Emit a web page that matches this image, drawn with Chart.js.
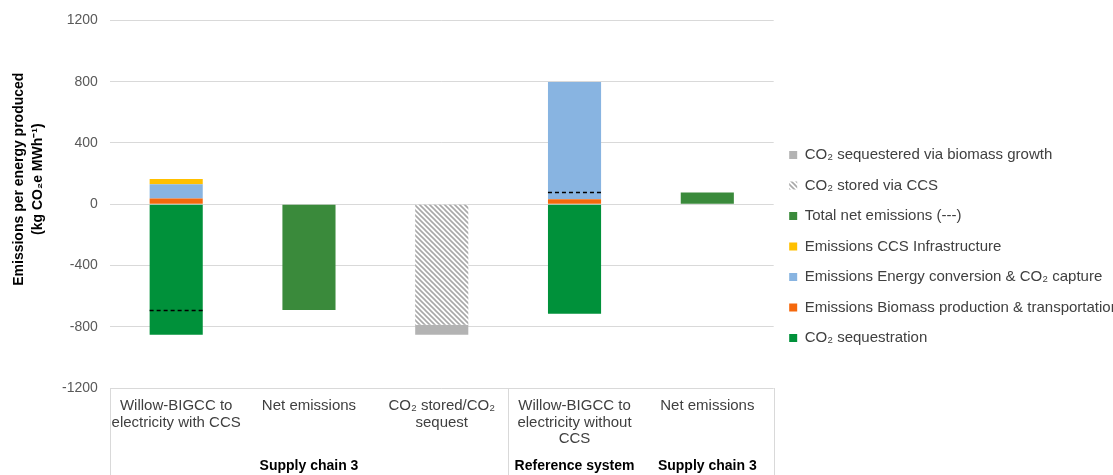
<!DOCTYPE html>
<html>
<head>
<meta charset="utf-8">
<script src="https://cdn.jsdelivr.net/npm/chart.js@4/dist/chart.umd.min.js"></script>
<style>
  html, body { margin: 0; padding: 0; background: #fff; overflow: hidden; }
  #wrap { width: 1129px; height: 475px; }
</style>
</head>
<body>
<div id="wrap"><canvas id="chart"></canvas></div>
<script>
// categorias (eje x, dos niveles)
const categories = [
  ['Willow-BIGCC to', 'electricity with CCS'],
  ['Net emissions'],
  ['CO₂ stored/CO₂', 'sequest'],
  ['Willow-BIGCC to', 'electricity without', 'CCS'],
  ['Net emissions']
];
const groupLabels = ['', 'Supply chain 3', '', 'Reference system', 'Supply chain 3'];
const groupLines = [0, 3, 5]; // bordes de grupo (indices)
const yTitle = ['Emissions per energy produced', '(kg CO₂e MWh⁻¹)'];

// series (kg CO2e / MWh)
const co2Sequestration = [-852, null, null, -715, null];
const biomassProduction = [37, null, null, 33, null];
const energyConversion = [94, null, null, 765, null];
const ccsInfrastructure = [33, null, null, null, null];
const totalNet = [null, -690, null, null, 77];
const storedCCS = [null, null, -787, null, null];
const sequesteredBiomass = [null, null, -65, null, null];
const netLine = [-688, null, null, 77, null]; // linea discontinua (---)

const yTicks = { min: -1200, max: 1200, step: 400 };
const barFrac = 0.4;
const FONT = 'Liberation Sans, Arial, sans-serif';

// patron rayado para CO2 stored via CCS
function hatch() {
  const c = document.createElement('canvas');
  c.width = 5; c.height = 5;
  const g = c.getContext('2d');
  g.fillStyle = '#ffffff';
  g.fillRect(0, 0, 5, 5);
  g.strokeStyle = '#a8a8a8';
  g.lineWidth = 1.6;
  g.beginPath();
  g.moveTo(-1, -1); g.lineTo(6, 6);
  g.moveTo(-1, 4); g.lineTo(1, 6);
  g.moveTo(4, -1); g.lineTo(6, 1);
  g.stroke();
  return g.createPattern(c, 'repeat');
}

// linea discontinua del total neto, sobre las barras
const netDash = {
  id: 'netDash',
  afterDatasetsDraw(chart) {
    const { ctx, scales: { x, y } } = chart;
    const half = (x.getPixelForValue(1) - x.getPixelForValue(0)) * barFrac / 2;
    ctx.save();
    ctx.strokeStyle = '#000';
    ctx.lineWidth = 1.5;
    ctx.setLineDash([4, 3]);
    netLine.forEach((v, i) => {
      if (v == null) return;
      const cx = x.getPixelForValue(i);
      const py = Math.round(y.getPixelForValue(v)) + 0.5;
      ctx.beginPath();
      ctx.moveTo(cx - half, py);
      ctx.lineTo(cx + half, py);
      ctx.stroke();
    });
    ctx.restore();
  }
};

// lineas del recuadro del eje x + titulo del eje y
const extras = {
  id: 'extras',
  afterDraw(chart) {
    const { ctx, chartArea, scales } = chart;
    ctx.save();
    ctx.strokeStyle = '#d9d9d9';
    ctx.lineWidth = 1;
    groupLines.forEach(i => {
      const px = Math.round(scales.x.getPixelForValue(i - 0.5)) + 0.5;
      ctx.beginPath();
      ctx.moveTo(px, chartArea.bottom);
      ctx.lineTo(px, chart.height);
      ctx.stroke();
    });
    // titulo vertical (un poco por encima del centro, como en Excel)
    const cy = (chartArea.top + chartArea.bottom) / 2 - 25;
    ctx.fillStyle = '#000';
    ctx.font = 'bold 14px ' + FONT;
    ctx.textAlign = 'center';
    ctx.textBaseline = 'middle';
    yTitle.forEach((t, k) => {
      ctx.save();
      ctx.translate(chartArea.left - 91 + k * 19, cy);
      ctx.rotate(-Math.PI / 2);
      ctx.fillText(t, 0, 0);
      ctx.restore();
    });
    ctx.restore();
  }
};

const bar = (label, data, color) => ({
  label, data, backgroundColor: color, borderWidth: 0,
  barPercentage: barFrac, categoryPercentage: 1, stack: 's'
});

new Chart(document.getElementById('chart'), {
  type: 'bar',
  data: {
    labels: categories,
    datasets: [
      bar('CO₂ sequestration', co2Sequestration, '#00913a'),
      bar('Emissions Biomass production & transportation', biomassProduction, '#f5680c'),
      bar('Emissions Energy conversion & CO₂ capture', energyConversion, '#88b4e1'),
      bar('Emissions CCS Infrastructure', ccsInfrastructure, '#ffc000'),
      bar('Total net emissions (---)', totalNet, '#3a8a3b'),
      bar('CO₂ stored via CCS', storedCCS, hatch()),
      bar('CO₂ sequestered via biomass growth', sequesteredBiomass, '#b3b3b3')
    ]
  },
  options: {
    responsive: true,
    maintainAspectRatio: false,
    animation: false,
    layout: { padding: { left: 50, top: 18, right: 0, bottom: 0 } },
    plugins: {
      tooltip: { enabled: false },
      legend: {
        position: 'right',
        reverse: true,
        maxWidth: 420,
        labels: {
          boxWidth: 8, boxHeight: 8, padding: 15.5,
          color: '#404040',
          font: { family: FONT, size: 15 }
        }
      }
    },
    scales: {
      x: {
        stacked: true,
        offset: true,
        grid: { display: false, drawTicks: false },
        border: { display: false },
        afterFit: s => { s.height = 58; },
        ticks: {
          color: '#404040', padding: 10, maxRotation: 0, autoSkip: false,
          font: { family: FONT, size: 15, lineHeight: 1.1 }
        }
      },
      x2: {
        type: 'category',
        labels: groupLabels,
        position: 'bottom',
        weight: 1,
        offset: true,
        grid: { display: false, drawTicks: false },
        border: { display: false },
        afterFit: s => { s.height = 29; },
        ticks: {
          color: '#000', padding: 12, maxRotation: 0, autoSkip: false,
          font: { family: FONT, size: 14, weight: 'bold' }
        }
      },
      y: {
        stacked: true,
        min: yTicks.min, max: yTicks.max,
        grid: { color: '#d9d9d9', drawTicks: false },
        border: { display: false },
        ticks: {
          stepSize: yTicks.step, padding: 12, color: '#595959',
          callback: v => String(v),
          font: { family: FONT, size: 14 }
        }
      }
    }
  },
  plugins: [netDash, extras]
});
</script>
</body>
</html>
